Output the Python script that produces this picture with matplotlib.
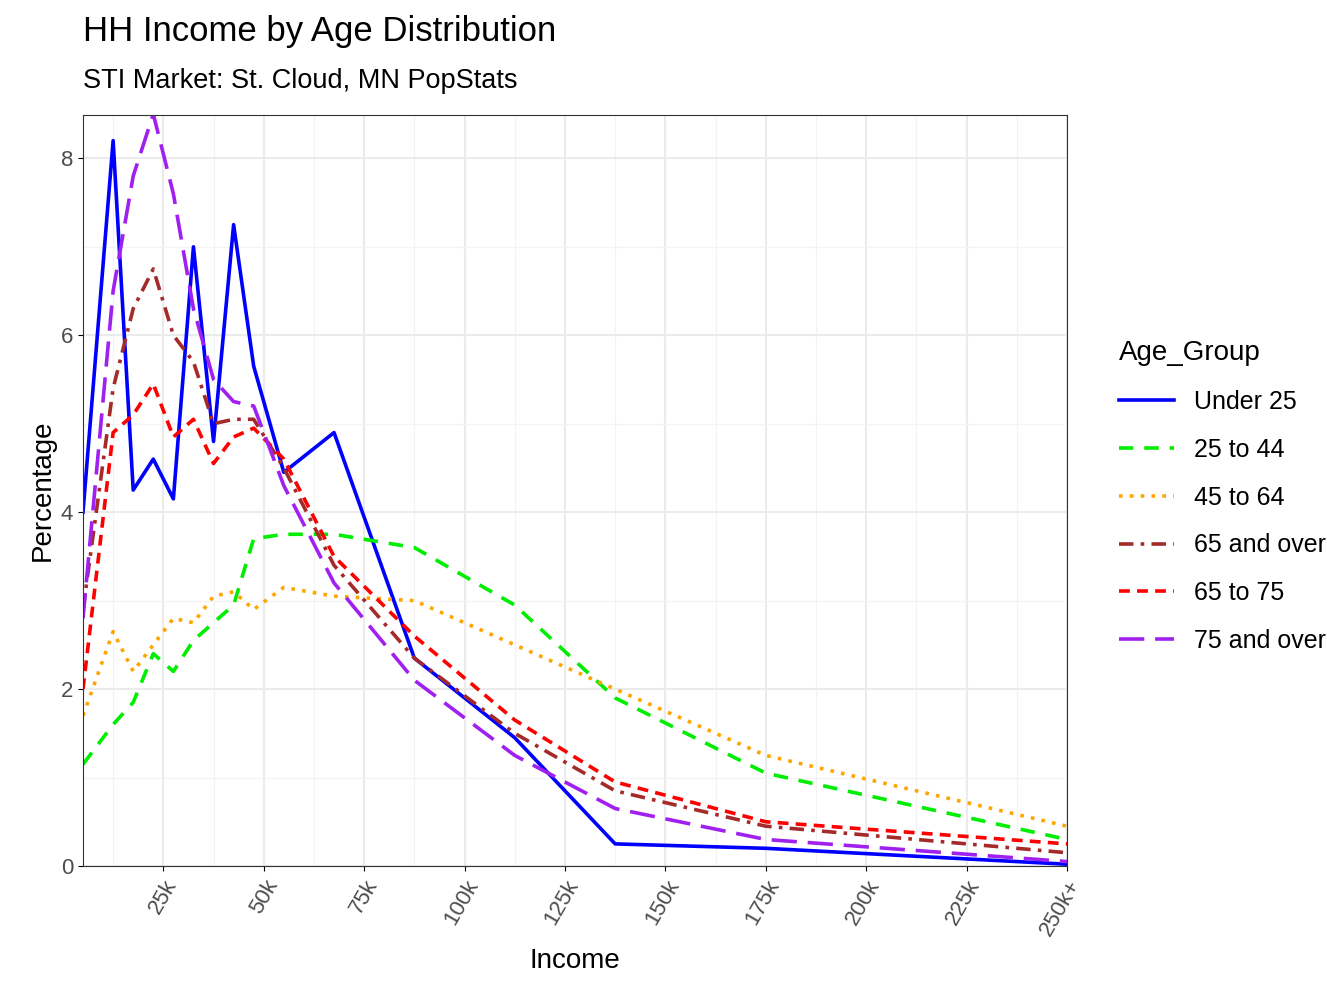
import matplotlib.pyplot as plt
from matplotlib.ticker import MultipleLocator

income = [5, 12.5, 17.5, 22.5, 27.5, 32.5, 37.5, 42.5, 47.5, 55, 67.5, 87.5, 112.5, 137.5, 175, 250]
under_25 = [4.0, 8.2, 4.25, 4.6, 4.15, 7.0, 4.8, 7.25, 5.65, 4.45, 4.9, 2.35, 1.45, 0.25, 0.2, 0.02]
age_25_44 = [1.15, 1.6, 1.85, 2.4, 2.2, 2.55, 2.75, 2.95, 3.7, 3.75, 3.75, 3.6, 2.95, 1.9, 1.05, 0.3]
age_45_64 = [1.7, 2.65, 2.2, 2.5, 2.8, 2.75, 3.05, 3.1, 2.9, 3.15, 3.05, 3.0, 2.5, 2.0, 1.25, 0.45]
age_65_over = [2.9, 5.4, 6.3, 6.75, 6.0, 5.7, 5.0, 5.05, 5.05, 4.5, 3.4, 2.35, 1.5, 0.85, 0.45, 0.15]
age_65_75 = [2.0, 4.9, 5.1, 5.45, 4.85, 5.05, 4.55, 4.85, 4.95, 4.6, 3.5, 2.6, 1.65, 0.95, 0.5, 0.25]
age_75_over = [2.8, 6.5, 7.8, 8.5, 7.6, 6.3, 5.5, 5.25, 5.2, 4.3, 3.2, 2.1, 1.25, 0.65, 0.3, 0.05]

tick_vals = [25, 50, 75, 100, 125, 150, 175, 200, 225, 250]
tick_labels = ['25k', '50k', '75k', '100k', '125k', '150k', '175k', '200k', '225k', '250k+']

series = [
    ('Under 25', under_25, 'blue', '-'),
    ('25 to 44', age_25_44, '#00ee00', (0, (4, 3))),
    ('45 to 64', age_45_64, 'orange', (0, (1, 2))),
    ('65 and over', age_65_over, 'brown', (0, (4, 2, 1, 2))),
    ('65 to 75', age_65_75, 'red', (0, (3, 2))),
    ('75 and over', age_75_over, '#a020f0', (0, (7, 3))),
]

plt.rcParams['font.family'] = 'Liberation Sans'
fig = plt.figure(figsize=(13.44, 10.08), dpi=100)
ax = fig.add_axes([83/1344, 1 - 866/1008, (1067-83)/1344, (866-115)/1008])

for name, vals, color, ls in series:
    ax.plot(income, vals, color=color, linestyle=ls, linewidth=2.6, label=name)

ax.set_xlim(5, 250)
ax.set_ylim(0, 8.49)
ax.set_xticks(tick_vals)
ax.set_xticklabels(tick_labels, rotation=60, fontsize=16, color='#4d4d4d', ha='right', rotation_mode='anchor')
ax.xaxis.set_minor_locator(MultipleLocator(12.5))
ax.yaxis.set_major_locator(MultipleLocator(2))
ax.yaxis.set_minor_locator(MultipleLocator(1))
ax.tick_params(axis='y', labelsize=16, labelcolor='#4d4d4d')
ax.tick_params(which='minor', length=0)
ax.grid(True, which='major', color='#ebebeb', linewidth=1.5)
ax.grid(True, which='minor', color='#f3f3f3', linewidth=0.8)
ax.set_axisbelow(True)
for s in ax.spines.values():
    s.set_color('#333333')

ax.set_xlabel('Income', fontsize=20, labelpad=6)
ax.set_ylabel('Percentage', fontsize=20)
fig.text(83/1344, 1 - 32/1008, 'HH Income by Age Distribution', fontsize=25, va='center')
fig.text(83/1344, 1 - 81/1008, 'STI Market: St. Cloud, MN PopStats', fontsize=19.5, va='center')

leg = ax.legend(loc='upper left', bbox_to_anchor=(1.03, 0.73), frameon=False,
                title='Age_Group', fontsize=18, title_fontsize=20, handlelength=2.2,
                labelspacing=0.95)
leg._legend_box.align = 'left'

fig.savefig('out.png')
